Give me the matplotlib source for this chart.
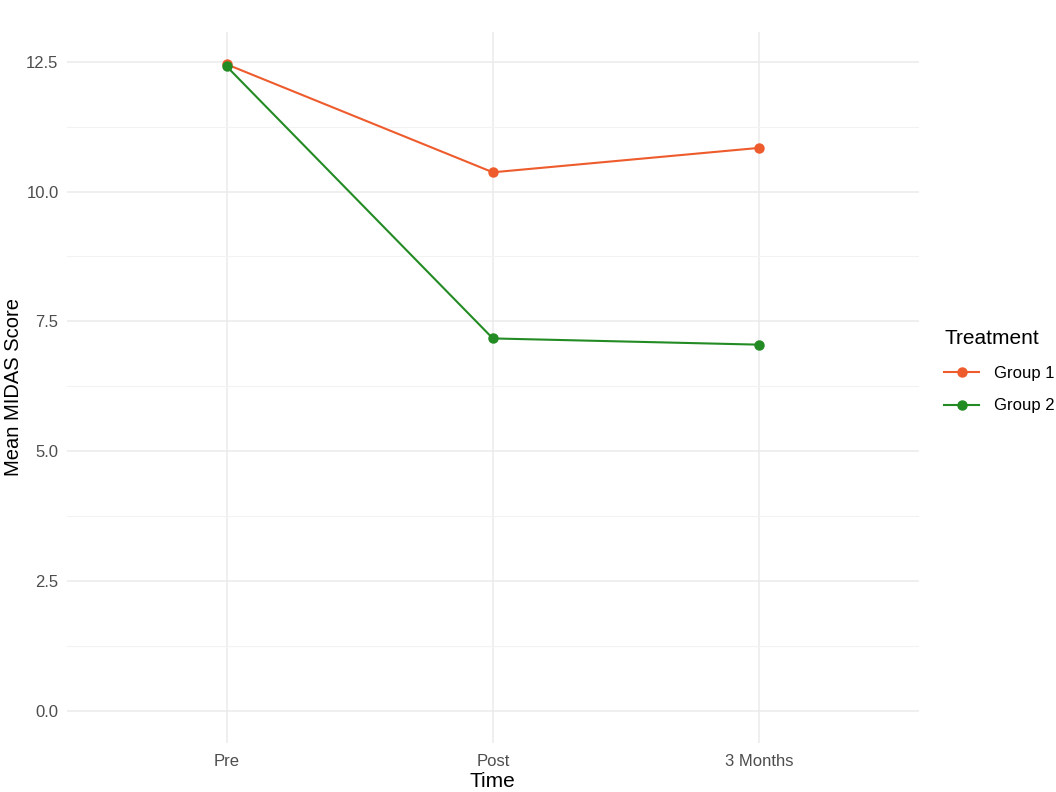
import matplotlib.pyplot as plt
from matplotlib.ticker import MultipleLocator

plt.rcParams['font.family'] = ['Liberation Sans', 'DejaVu Sans']

# Data
times = ['Pre', 'Post', '3 Months']
group1 = [12.45, 10.37, 10.84]
group2 = [12.41, 7.17, 7.05]
groups = ['Group 1', 'Group 2']
colors = ['#EE5B2C', '#238B23']

fig = plt.figure(figsize=(10.56, 7.92), dpi=100)
ax = fig.add_axes([0.0634, 0.0619, 0.8066, 0.8977])

x = list(range(len(times)))
for vals, name, col in zip([group1, group2], groups, colors):
    ax.plot(x, vals, color=col, lw=1.5, marker='o', ms=6.5, label=name)

# ggplot-like limits (discrete expansion 0.6, continuous 5%)
ax.set_xlim(-0.6, 2.6)
ymax = max(group1 + group2)
ax.set_ylim(-0.05 * ymax, ymax * 1.05)

ax.set_xticks(x)
ax.set_xticklabels(times)
ax.yaxis.set_major_locator(MultipleLocator(2.5))
ax.yaxis.set_minor_locator(MultipleLocator(1.25))
ax.yaxis.set_major_formatter(plt.FormatStrFormatter('%.1f'))

ax.grid(True, which='major', color='#EBEBEB', lw=1.1)
ax.grid(True, which='minor', axis='y', color='#F2F2F2', lw=0.8)
ax.set_axisbelow(True)
for s in ax.spines.values():
    s.set_visible(False)
ax.tick_params(which='both', length=0, labelsize=12, labelcolor='#4D4D4D')
ax.tick_params(axis='x', pad=8)
ax.tick_params(axis='y', pad=6)

ax.set_xlabel('Time', fontsize=15, labelpad=2)
ax.set_ylabel('Mean MIDAS Score', fontsize=14.5, labelpad=2)

handles, labels = ax.get_legend_handles_labels()
leg = fig.legend(handles, labels, title='Treatment', loc='center left',
                 bbox_to_anchor=(0.888, 0.531), frameon=False,
                 fontsize=12, title_fontsize=15, handlelength=2.1,
                 handletextpad=0.9, labelspacing=1.05, borderaxespad=0)
leg._legend_box.align = 'left'

fig.savefig('out.png', dpi=100)
